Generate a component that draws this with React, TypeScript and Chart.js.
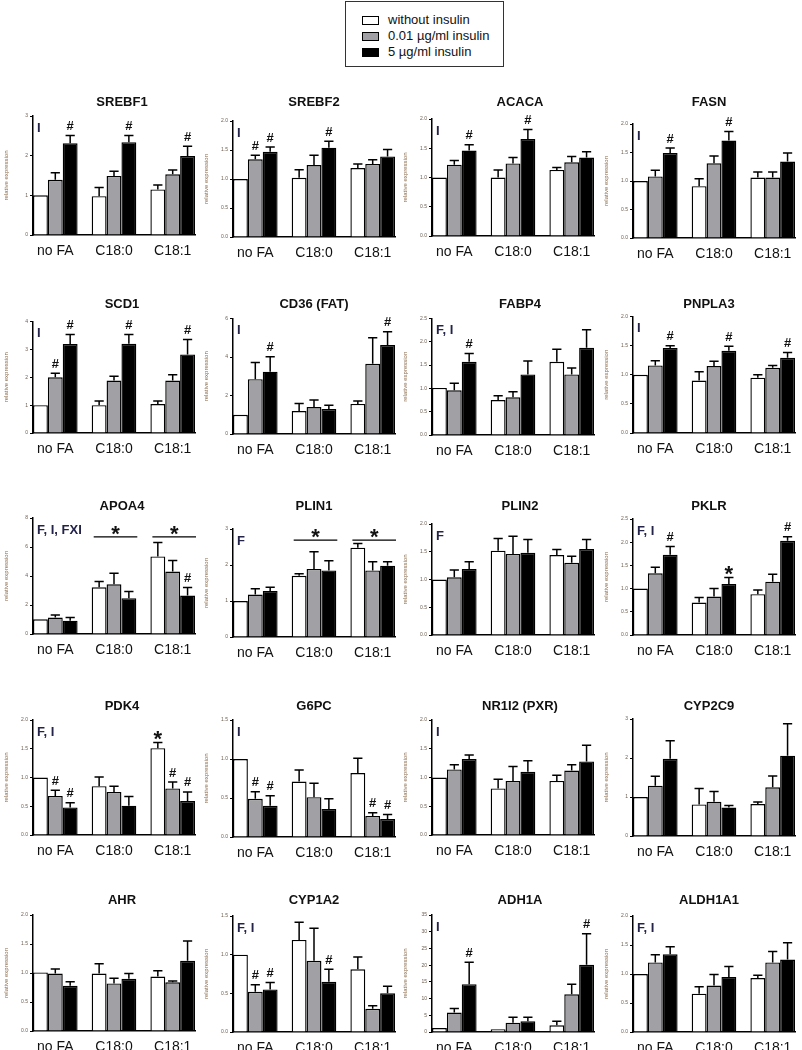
import React, { useEffect, useRef } from "react";
import { Chart, registerables } from "chart.js";

Chart.register(...registerables);

const FONT = "'Liberation Sans', Arial, Helvetica, sans-serif";
Chart.defaults.font.family = FONT;

const GROUPS = ["no FA", "C18:0", "C18:1"];
const SERIES = ["without insulin", "0.01 µg/ml insulin", "5 µg/ml insulin"];
const FILLS = ["#ffffff", "#a1a1a5", "#000000"];

// values per series [without, 0.01, 5][noFA, C18:0, C18:1]; *_ERR = top of error bar
const SREBF1_MEAN = [[1.0, 0.98, 1.15], [1.39, 1.49, 1.53], [2.31, 2.34, 1.99]];
const SREBF1_ERR = [[1.0, 1.2, 1.26], [1.57, 1.61, 1.64], [2.51, 2.51, 2.24]];
const SREBF2_MEAN = [[1.0, 1.02, 1.19], [1.34, 1.24, 1.26], [1.47, 1.54, 1.39]];
const SREBF2_ERR = [[1.0, 1.16, 1.26], [1.41, 1.41, 1.33], [1.55, 1.65, 1.51]];
const ACACA_MEAN = [[1.0, 1.0, 1.13], [1.22, 1.24, 1.26], [1.46, 1.66, 1.34]];
const ACACA_ERR = [[1.0, 1.13, 1.17], [1.29, 1.34, 1.36], [1.56, 1.82, 1.44]];
const FASN_MEAN = [[1.0, 0.91, 1.06], [1.08, 1.31, 1.06], [1.49, 1.71, 1.34]];
const FASN_ERR = [[1.0, 1.04, 1.16], [1.19, 1.44, 1.16], [1.58, 1.87, 1.49]];
const SCD1_MEAN = [[1.0, 1.0, 1.04], [2.0, 1.88, 1.88], [3.19, 3.2, 2.82]];
const SCD1_ERR = [[1.0, 1.15, 1.15], [2.14, 2.04, 2.09], [3.53, 3.53, 3.35]];
const CD36_MEAN = [[1.0, 1.19, 1.56], [2.85, 1.4, 3.65], [3.24, 1.3, 4.62]];
const CD36_ERR = [[1.0, 1.59, 1.71], [3.72, 1.76, 5.0], [4.01, 1.5, 5.31]];
const FABP4_MEAN = [[1.01, 0.75, 1.57], [0.96, 0.81, 1.3], [1.57, 1.3, 1.87]];
const FABP4_ERR = [[1.01, 0.84, 1.84], [1.11, 0.93, 1.44], [1.75, 1.59, 2.26]];
const PNPLA3_MEAN = [[1.0, 0.9, 0.95], [1.16, 1.15, 1.12], [1.46, 1.41, 1.29]];
const PNPLA3_ERR = [[1.0, 1.05, 1.0], [1.24, 1.23, 1.16], [1.5, 1.49, 1.38]];
const APOA4_MEAN = [[1.01, 3.22, 5.35], [1.13, 3.43, 4.31], [0.92, 2.47, 2.65]];
const APOA4_ERR = [[1.01, 3.62, 6.31], [1.31, 4.19, 5.07], [1.13, 2.93, 3.2]];
const PLIN1_MEAN = [[1.0, 1.7, 2.48], [1.18, 1.89, 1.85], [1.28, 1.85, 1.98]];
const PLIN1_ERR = [[1.0, 1.76, 2.6], [1.34, 2.37, 2.09], [1.38, 2.12, 2.09]];
const PLIN2_MEAN = [[1.0, 1.52, 1.44], [1.04, 1.46, 1.3], [1.19, 1.48, 1.55]];
const PLIN2_ERR = [[1.0, 1.74, 1.54], [1.17, 1.78, 1.42], [1.32, 1.72, 1.72]];
const PKLR_MEAN = [[1.0, 0.7, 0.88], [1.33, 0.83, 1.15], [1.73, 1.1, 2.03]];
const PKLR_ERR = [[1.0, 0.81, 0.97], [1.46, 1.0, 1.31], [1.91, 1.24, 2.12]];
const PDK4_MEAN = [[1.0, 0.85, 1.51], [0.68, 0.75, 0.81], [0.48, 0.51, 0.59]];
const PDK4_ERR = [[1.0, 1.01, 1.61], [0.78, 0.85, 0.92], [0.56, 0.67, 0.75]];
const G6PC_MEAN = [[1.0, 0.71, 0.82], [0.49, 0.51, 0.27], [0.4, 0.36, 0.23]];
const G6PC_ERR = [[1.0, 0.86, 1.01], [0.58, 0.69, 0.31], [0.53, 0.49, 0.29]];
const NR1I2_MEAN = [[1.0, 0.81, 0.94], [1.14, 0.94, 1.12], [1.32, 1.1, 1.28]];
const NR1I2_ERR = [[1.0, 0.97, 1.04], [1.22, 1.19, 1.22], [1.39, 1.29, 1.56]];
const CYP2C9_MEAN = [[1.0, 0.81, 0.82], [1.29, 0.88, 1.25], [1.98, 0.73, 2.06]];
const CYP2C9_ERR = [[1.0, 1.22, 0.87], [1.53, 1.14, 1.54], [2.44, 0.78, 2.88]];
const AHR_MEAN = [[1.01, 0.99, 0.94], [0.99, 0.82, 0.84], [0.78, 0.9, 1.21]];
const AHR_ERR = [[1.01, 1.16, 1.04], [1.07, 0.91, 0.86], [0.85, 0.99, 1.55]];
const CYP1A2_MEAN = [[1.0, 1.19, 0.81], [0.52, 0.92, 0.3], [0.55, 0.65, 0.5]];
const CYP1A2_ERR = [[1.0, 1.42, 0.97], [0.61, 1.34, 0.34], [0.64, 0.81, 0.59]];
const ADH1A_MEAN = [[1.2, 0.8, 2.0], [5.8, 2.8, 11.3], [14.3, 3.2, 20.1]];
const ADH1A_ERR = [[1.2, 0.8, 3.2], [7.0, 4.4, 14.3], [20.9, 4.4, 29.4]];
const ALDH1A1_MEAN = [[1.0, 0.66, 0.93], [1.2, 0.8, 1.2], [1.34, 0.95, 1.25]];
const ALDH1A1_ERR = [[1.0, 0.78, 0.98], [1.33, 0.99, 1.39], [1.47, 1.13, 1.54]];

// significance marks: [group, series, symbol]
type Mark = [number, number, string];
const SREBF1_MARKS: Mark[] = [[0, 2, "#"], [1, 2, "#"], [2, 2, "#"]];
const SREBF2_MARKS: Mark[] = [[0, 1, "#"], [0, 2, "#"], [1, 2, "#"]];
const ACACA_MARKS: Mark[] = [[0, 2, "#"], [1, 2, "#"]];
const FASN_MARKS: Mark[] = [[0, 2, "#"], [1, 2, "#"]];
const SCD1_MARKS: Mark[] = [[0, 1, "#"], [0, 2, "#"], [1, 2, "#"], [2, 2, "#"]];
const CD36_MARKS: Mark[] = [[0, 2, "#"], [2, 2, "#"]];
const FABP4_MARKS: Mark[] = [[0, 2, "#"]];
const PNPLA3_MARKS: Mark[] = [[0, 2, "#"], [1, 2, "#"], [2, 2, "#"]];
const APOA4_MARKS: Mark[] = [[2, 2, "#"]];
const PKLR_MARKS: Mark[] = [[0, 2, "#"], [1, 2, "*"], [2, 2, "#"]];
const PDK4_MARKS: Mark[] = [[0, 1, "#"], [0, 2, "#"], [2, 0, "*"], [2, 1, "#"], [2, 2, "#"]];
const G6PC_MARKS: Mark[] = [[0, 1, "#"], [0, 2, "#"], [2, 1, "#"], [2, 2, "#"]];
const CYP1A2_MARKS: Mark[] = [[0, 1, "#"], [0, 2, "#"], [1, 2, "#"]];
const ADH1A_MARKS: Mark[] = [[0, 2, "#"], [2, 2, "#"]];
// group-wide significance lines: [group, value]
const APOA4_LINES: [number, number][] = [[1, 6.7], [2, 6.7]];
const PLIN1_LINES: [number, number][] = [[1, 2.69], [2, 2.69]];

interface Panel {
  title: string;
  letters: string;
  yMax: number;
  yStep: number;
  dec: number;
  mean: number[][];
  err: number[][];
  marks: Mark[];
  lines: [number, number][];
}

const P = (title: string, letters: string, yMax: number, yStep: number, dec: number, mean: number[][], err: number[][], marks: Mark[] = [], lines: [number, number][] = []): Panel =>
  ({ title, letters, yMax, yStep, dec, mean, err, marks, lines });

const PANELS: Panel[] = [
  P("SREBF1", "I", 3, 1, 0, SREBF1_MEAN, SREBF1_ERR, SREBF1_MARKS),
  P("SREBF2", "I", 2, 0.5, 1, SREBF2_MEAN, SREBF2_ERR, SREBF2_MARKS),
  P("ACACA", "I", 2, 0.5, 1, ACACA_MEAN, ACACA_ERR, ACACA_MARKS),
  P("FASN", "I", 2, 0.5, 1, FASN_MEAN, FASN_ERR, FASN_MARKS),
  P("SCD1", "I", 4, 1, 0, SCD1_MEAN, SCD1_ERR, SCD1_MARKS),
  P("CD36 (FAT)", "I", 6, 2, 0, CD36_MEAN, CD36_ERR, CD36_MARKS),
  P("FABP4", "F, I", 2.5, 0.5, 1, FABP4_MEAN, FABP4_ERR, FABP4_MARKS),
  P("PNPLA3", "I", 2, 0.5, 1, PNPLA3_MEAN, PNPLA3_ERR, PNPLA3_MARKS),
  P("APOA4", "F, I, FXI", 8, 2, 0, APOA4_MEAN, APOA4_ERR, APOA4_MARKS, APOA4_LINES),
  P("PLIN1", "F", 3, 1, 0, PLIN1_MEAN, PLIN1_ERR, [], PLIN1_LINES),
  P("PLIN2", "F", 2, 0.5, 1, PLIN2_MEAN, PLIN2_ERR),
  P("PKLR", "F, I", 2.5, 0.5, 1, PKLR_MEAN, PKLR_ERR, PKLR_MARKS),
  P("PDK4", "F, I", 2, 0.5, 1, PDK4_MEAN, PDK4_ERR, PDK4_MARKS),
  P("G6PC", "I", 1.5, 0.5, 1, G6PC_MEAN, G6PC_ERR, G6PC_MARKS),
  P("NR1I2 (PXR)", "I", 2, 0.5, 1, NR1I2_MEAN, NR1I2_ERR),
  P("CYP2C9", "", 3, 1, 0, CYP2C9_MEAN, CYP2C9_ERR),
  P("AHR", "", 2, 0.5, 1, AHR_MEAN, AHR_ERR),
  P("CYP1A2", "F, I", 1.5, 0.5, 1, CYP1A2_MEAN, CYP1A2_ERR, CYP1A2_MARKS),
  P("ADH1A", "I", 35, 5, 0, ADH1A_MEAN, ADH1A_ERR, ADH1A_MARKS),
  P("ALDH1A1", "F, I", 2, 0.5, 1, ALDH1A1_MEAN, ALDH1A1_ERR),
];

// layout (page pixels)
const AXIS_X = [33, 233, 432, 633];
const PLOT_W = 162;
const TITLE_X = [122, 314, 520, 709];
const TITLE_Y = [102, 303.5, 506, 706, 900];
const PLOT_TOP = [[116, 121, 119, 124], [321, 318, 318, 316], [518, 529, 524, 519], [720, 720, 720, 719], [915, 916, 915, 916]];
const PLOT_BOTTOM = [[235, 237, 236, 238], [433, 434, 435, 433], [634, 637, 635, 635], [835, 837, 835, 836], [1031, 1032, 1032, 1032]];
const Y_AXIS_W = 30;
const X_AXIS_H = 24;
const CAT_PCT = 0.76;

function drawSym(ctx: CanvasRenderingContext2D, sym: string, x: number, cy: number) {
  ctx.fillStyle = "#111";
  ctx.textAlign = "center";
  ctx.textBaseline = "alphabetic";
  if (sym === "*") {
    ctx.font = `bold 22px ${FONT}`;
    ctx.fillText("*", x, cy + 12.3);
  } else {
    ctx.font = `bold 13px ${FONT}`;
    ctx.fillText(sym, x, cy + 4.6);
  }
}

function makeOverlay(p: Panel, titleX: number, titleY: number) {
  return {
    id: "overlay",
    afterDatasetsDraw(chart: any) {
      const ctx: CanvasRenderingContext2D = chart.ctx;
      const ys = chart.scales.y;
      const area = chart.chartArea;
      ctx.save();
      ctx.strokeStyle = "#000";
      ctx.lineWidth = 1.5;
      for (let s = 0; s < 3; s++) {
        const meta = chart.getDatasetMeta(s);
        meta.data.forEach((el: any, g: number) => {
          const e = p.err[s][g];
          if (e <= p.mean[s][g] + 1e-9) return;
          const yTop = ys.getPixelForValue(e);
          const cw = el.width * 0.62;
          ctx.beginPath();
          ctx.moveTo(el.x, el.y);
          ctx.lineTo(el.x, yTop);
          ctx.moveTo(el.x - cw / 2, yTop);
          ctx.lineTo(el.x + cw / 2, yTop);
          ctx.stroke();
        });
      }
      p.marks.forEach(([g, s, sym]) => {
        const el: any = chart.getDatasetMeta(s).data[g];
        const yTop = ys.getPixelForValue(Math.max(p.err[s][g], p.mean[s][g]));
        drawSym(ctx, sym, el.x, yTop - (sym === "*" ? 8.5 : 10));
      });
      p.lines.forEach(([g, v]) => {
        const a: any = chart.getDatasetMeta(0).data[g];
        const b: any = chart.getDatasetMeta(2).data[g];
        const x1 = a.x - a.width / 2 + 2;
        const x2 = b.x + b.width / 2 + 1;
        const y = ys.getPixelForValue(v);
        ctx.strokeStyle = "#000";
        ctx.lineWidth = 1.2;
        ctx.beginPath();
        ctx.moveTo(x1, y);
        ctx.lineTo(x2, y);
        ctx.stroke();
        drawSym(ctx, "*", (x1 + x2) / 2, y - 8.5);
      });
      if (p.letters) {
        ctx.font = `bold 13px ${FONT}`;
        ctx.textAlign = "left";
        ctx.textBaseline = "middle";
        ctx.fillStyle = "#23234a";
        ctx.fillText(p.letters, area.left + 4, area.top + 12);
      }
      ctx.font = `bold 13px ${FONT}`;
      ctx.textAlign = "center";
      ctx.textBaseline = "middle";
      ctx.fillStyle = "#111";
      ctx.fillText(p.title, titleX, titleY);
      ctx.restore();
    },
  };
}

function BarPanel({ p, index }: { p: Panel; index: number }) {
  const ref = useRef<HTMLCanvasElement | null>(null);
  const row = Math.floor(index / 4);
  const col = index % 4;
  const left = AXIS_X[col] - 32;
  const top = TITLE_Y[row] - 14;
  const plotTop = PLOT_TOP[row][col];
  const plotBottom = PLOT_BOTTOM[row][col];
  const width = 32 + PLOT_W + 6;
  const height = plotBottom + 30 - top;

  useEffect(() => {
    if (!ref.current) return;
    const chart = new Chart(ref.current, {
      type: "bar",
      data: {
        datasets: SERIES.map((label, s) => ({
          label,
          data: p.mean[s].map((v, g) => ({ x: g, y: v })),
          backgroundColor: FILLS[s],
          borderColor: "#000",
          borderWidth: 1.4,
          categoryPercentage: CAT_PCT,
          barPercentage: 1,
        })),
      },
      options: {
        animation: false,
        responsive: false,
        maintainAspectRatio: false,
        devicePixelRatio: 1,
        layout: { padding: { left: 32 - Y_AXIS_W, right: 6, top: plotTop - top, bottom: 30 - X_AXIS_H } },
        plugins: { legend: { display: false }, tooltip: { enabled: false }, title: { display: false } },
        scales: {
          x: {
            type: "linear",
            min: -CAT_PCT / 2,
            max: 2 + CAT_PCT / 2,
            offset: false,
            grid: { display: false },
            border: { display: true, color: "#000", width: 1.5 },
            ticks: {
              stepSize: 1,
              includeBounds: false,
              autoSkip: false,
              maxRotation: 0,
              padding: 0,
              font: { family: FONT, size: 14 },
              color: "#111",
              callback: (v: any) => GROUPS[Math.round(Number(v))] ?? "",
            },
            afterFit: (sc: any) => { sc.height = X_AXIS_H; },
          },
          y: {
            min: 0,
            max: p.yMax,
            grid: { drawOnChartArea: false, drawTicks: true, tickLength: 3, color: "#000", lineWidth: 1 },
            border: { display: true, color: "#000", width: 1.5 },
            ticks: {
              stepSize: p.yStep,
              autoSkip: false,
              padding: 2,
              font: { family: FONT, size: 5 },
              color: "#6b5b4e",
              callback: (v: any) => Number(v).toFixed(p.dec),
            },
            title: { display: true, text: "relative expression", font: { family: FONT, size: 6 }, color: "#8a6a4a", padding: 0 },
            afterFit: (sc: any) => { sc.width = Y_AXIS_W; },
          },
        },
      } as any,
      plugins: [makeOverlay(p, TITLE_X[col] - left, TITLE_Y[row] - top)],
    });
    return () => chart.destroy();
  }, []);

  return (
    <canvas
      ref={ref}
      width={width}
      height={height}
      style={{ position: "absolute", left, top, width, height }}
    />
  );
}

const swatch = (bg: string) => ({
  display: "inline-block",
  width: 15,
  height: 7,
  background: bg,
  border: "1px solid #000",
  marginRight: 9,
  verticalAlign: "middle",
});

export default function App() {
  return (
    <div style={{ position: "fixed", left: 0, top: 0, width: 802, height: 1050, overflow: "hidden", background: "#fff" }}>
      <div
        style={{
          position: "absolute",
          left: 345,
          top: 1,
          width: 159,
          height: 66,
          border: "1px solid #333",
          fontFamily: FONT,
          fontSize: 13,
          color: "#111",
          boxSizing: "border-box",
          paddingLeft: 16,
          paddingTop: 10,
        }}
      >
        {SERIES.map((s, i) => (
          <div key={s} style={{ height: 16, lineHeight: "16px", whiteSpace: "nowrap" }}>
            <span style={swatch(FILLS[i])} />
            {s}
          </div>
        ))}
      </div>
      {PANELS.map((p, i) => (
        <BarPanel key={p.title} p={p} index={i} />
      ))}
    </div>
  );
}
